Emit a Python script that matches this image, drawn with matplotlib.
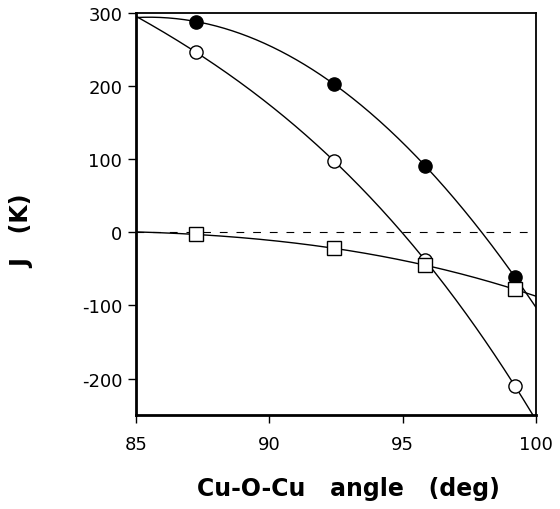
import numpy as np
import matplotlib
matplotlib.use("Agg")
import matplotlib.pyplot as plt

plt.rcParams['font.family'] = ['DejaVu Sans']
plt.rcParams['axes.unicode_minus'] = False

angle = [87.25, 92.44, 95.84, 99.21]
J_filled = [288, 202, 91, -61]
J_open = [246, 97, -38, -210]
J_square = [-3, -22, -45, -78]

xticks = [85, 90, 95, 100]
yticks = [-200, -100, 0, 100, 200, 300]

fig = plt.figure(figsize=(5.6, 5.1), dpi=100)
ax = fig.add_axes([0.243, 0.184, 0.714, 0.789])

xf = np.linspace(85, 100, 300)
for ys in (J_filled, J_open, J_square):
    c = np.polyfit(angle, ys, 3)
    ax.plot(xf, np.polyval(c, xf), color='black', lw=1.0, zorder=2)

ax.axhline(0, xmin=0, xmax=0.98, color='black', lw=0.8, ls=(0, (7, 8)), zorder=1)

ax.plot(angle, J_filled, 'o', ms=9.5, mfc='black', mec='black', zorder=3)
ax.plot(angle, J_open, 'o', ms=9.5, mfc='white', mec='black', mew=1.0, zorder=3)
ax.plot(angle, J_square, 's', ms=10, mfc='white', mec='black', mew=1.0, zorder=3)

ax.set_xlim(85, 100)
ax.set_ylim(-250, 300)
ax.set_xticks(xticks)
ax.set_yticks(yticks)
ax.tick_params(direction='out', length=6, width=1.0, labelsize=13, pad=4)
ax.tick_params(axis='x', pad=8)
for s in ('left', 'bottom'):
    ax.spines[s].set_linewidth(2.0)
for s in ('top', 'right'):
    ax.spines[s].set_linewidth(1.3)

ax.set_xlabel('Cu-O-Cu   angle   (deg)', fontsize=17, fontweight='bold')
ax.set_ylabel('J   (K)', fontsize=17, fontweight='bold')
ax.xaxis.set_label_coords(0.53, -0.18)
ax.yaxis.set_label_coords(-0.285, 0.46)
ax.xaxis.label.set_va('center')
ax.yaxis.label.set_va('center')

fig.savefig('out.png', dpi=100)
